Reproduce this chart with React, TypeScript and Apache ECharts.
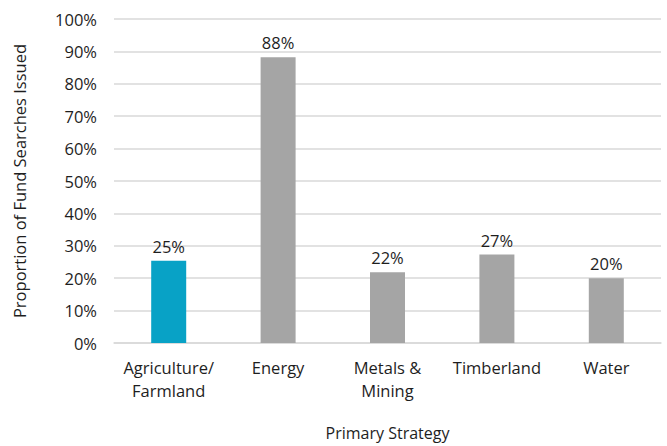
import React, { useEffect, useRef } from "react";
import * as echarts from "echarts";

const categories = ["Agriculture/\nFarmland", "Energy", "Metals &\nMining", "Timberland", "Water"];
const values = [25.4, 88.2, 21.8, 27.3, 20.0];
const barColors = ["#08a2c6", "#a5a5a5", "#a5a5a5", "#a5a5a5", "#a5a5a5"];
const yTitle = "Proportion of Fund Searches Issued";
const xTitle = "Primary Strategy";

const FONT = "'Open Sans', 'Noto Sans', sans-serif";
const FS = 16.5;

export default function App() {
  const ref = useRef<HTMLDivElement>(null);
  useEffect(() => {
    if (!ref.current) return;
    const chart = echarts.init(ref.current, undefined, { renderer: "svg" });
    chart.setOption({
      animation: false,
      backgroundColor: "#ffffff",
      textStyle: { fontFamily: FONT },
      grid: { left: 114, right: 6, top: 19, bottom: 100, containLabel: false },
      xAxis: {
        type: "category",
        data: categories,
        name: xTitle,
        nameLocation: "middle",
        nameGap: 82,
        nameTextStyle: { fontSize: 16, color: "#1e1e1e", fontFamily: FONT },
        axisLine: { show: true, lineStyle: { color: "#d9d9d9", width: 1.5 } },
        axisTick: { show: false },
        axisLabel: { fontSize: FS, color: "#1e1e1e", margin: 13, lineHeight: 23, fontFamily: FONT, interval: 0 },
      },
      yAxis: {
        type: "value",
        min: 0,
        max: 100,
        interval: 10,
        name: yTitle,
        nameLocation: "middle",
        nameGap: 86,
        nameTextStyle: { fontSize: 16.5, color: "#1e1e1e", fontFamily: FONT },
        axisLine: { show: false },
        axisTick: { show: false },
        splitLine: { lineStyle: { color: "#d9d9d9", width: 1.5 } },
        axisLabel: { fontSize: FS, color: "#1e1e1e", margin: 17, fontFamily: FONT, formatter: (v: number) => v + "%" },
      },
      series: [
        {
          type: "bar",
          barWidth: 35,
          data: values.map((v, i) => ({ value: v, itemStyle: { color: barColors[i] } })),
          label: {
            show: true,
            position: "top",
            distance: 6,
            fontSize: FS,
            color: "#1e1e1e",
            fontFamily: FONT,
            formatter: (p: any) => Math.round(p.value) + "%",
          },
        },
      ],
    });
    return () => chart.dispose();
  }, []);
  return <div ref={ref} style={{ position: "fixed", left: 0, top: 0, width: 667, height: 446 }} />;
}
